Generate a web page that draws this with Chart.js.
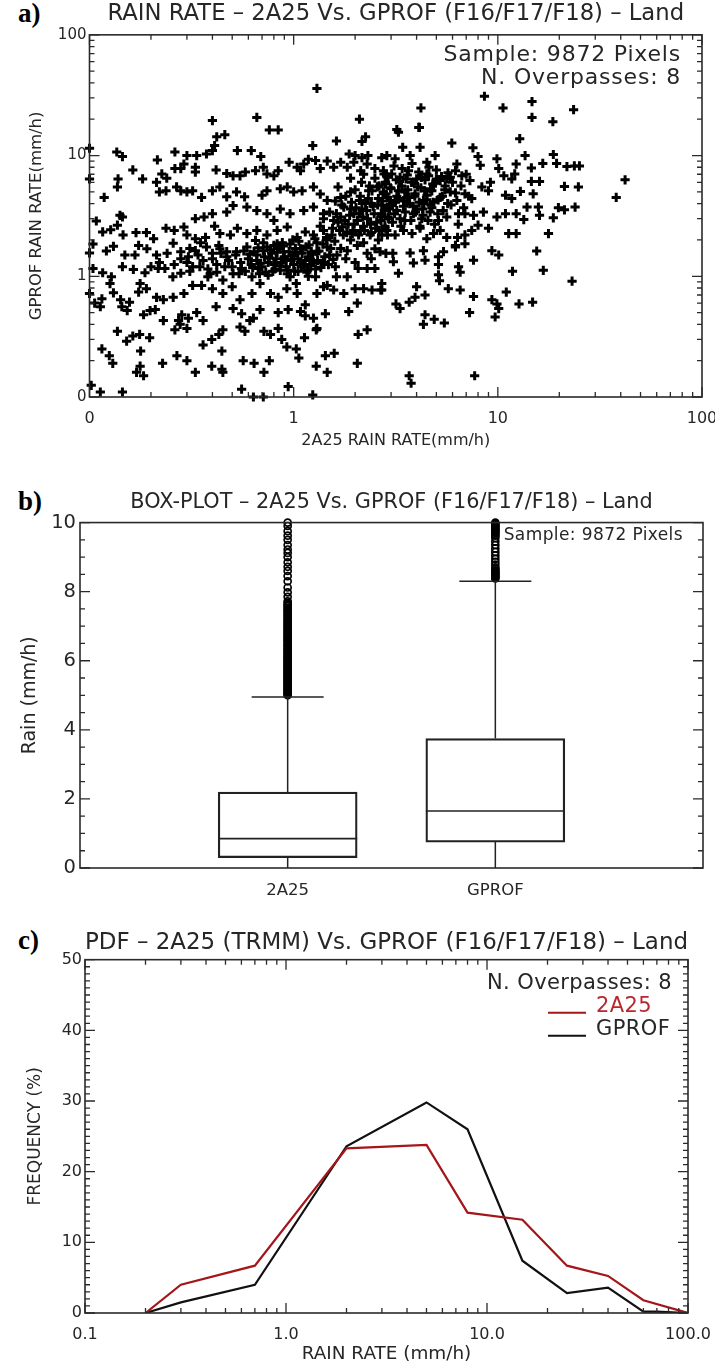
<!DOCTYPE html>
<html>
<head>
<meta charset="utf-8">
<script src="https://cdn.jsdelivr.net/npm/chart.js@4.4.1/dist/chart.umd.min.js"></script>
<style>
  html, body { margin: 0; padding: 0; background: #fff; }
  body { width: 715px; height: 1369px; position: relative; overflow: hidden; }
  canvas { position: absolute; left: 0; }
  .tag { position: absolute; left: 18px; font-family: 'Liberation Serif', 'DejaVu Serif', serif; font-weight: bold; font-size: 27px; line-height: 1; color: #000; }
</style>
</head>
<body>
<div class="tag" style="top:0px">a)</div>
<div class="tag" style="top:488px">b)</div>
<div class="tag" style="top:927px">c)</div>
<canvas id="chartA" style="top:0px" width="715" height="460"></canvas>
<canvas id="chartB" style="top:470px" width="715" height="440"></canvas>
<canvas id="chartC" style="top:915px" width="715" height="454"></canvas>
<script>
// ---- datos ----
const sampleSize = 9872;
const overpasses = 8;

// a) dispersion: [2A25, GPROF] en mm/h
const scatterPoints = [
  // parte alta, puntos sueltos
  [0.40,19.5],[0.66,20.7],[0.76,16.3],[0.84,16.3],[1.30,36],[2.1,20],[8.6,31],[4.2,24.8],[10.6,24.8],[14.7,28],
  [14.7,20.7],[18.6,19.1],[23.5,24],[4.1,17.1],[3.2,16.4],[0.46,14.9],[0.42,14.3],[2.25,14.3],[2.16,13.1],
  // ~10 mm/h
  [0.10,11.5],[0.136,10.7],[0.145,9.8],[0.262,10.7],[0.30,10.0],[0.335,10.0],[0.374,10.3],[0.40,11.0],[0.41,12.1],
  [0.53,11.0],[0.62,11.0],[0.69,9.8],[1.24,12.1],[1.62,13.2],[1.87,10.3],[2.16,9.6],[2.31,10.0],[2.0,10.0],[2.7,9.6],
  // 6-9 mm/h
  [0.10,6.4],[0.138,6.4],[0.163,7.6],[0.182,6.4],[0.215,9.2],[0.213,6.0],[0.226,7.05],[0.239,6.5],[0.262,7.8],
  [0.29,8.5],[0.28,7.8],[0.33,8.0],[0.33,7.3],[0.417,7.6],[0.47,7.1],[0.505,6.8],[0.546,6.8],[0.58,7.3],[0.65,7.5],
  [0.71,8.0],[0.74,7.05],[0.80,6.8],[0.84,7.5],[0.95,8.8],[1.04,8.0],[1.08,7.5],[1.12,8.5],[1.18,9.3],[1.28,9.1],
  [1.35,7.8],[1.46,9.0],[1.57,8.0],[1.70,8.8],[1.83,8.0],[1.97,8.8],[2.13,7.5],[2.29,8.5],[2.5,7.8],[2.77,7.05],
  // 4-6 mm/h
  [0.137,5.5],[0.118,4.5],[0.22,5.0],[0.237,5.1],[0.267,5.5],[0.28,5.1],[0.30,5.0],[0.32,5.1],[0.354,4.5],[0.40,5.1],
  [0.435,5.5],[0.47,4.55],[0.525,5.0],[0.575,4.55],[0.70,4.7],[0.74,5.1],[0.86,5.3],[0.93,5.5],[1.0,5.0],[1.10,5.1],
  [1.25,5.5],[1.35,4.8],[1.46,4.25],[1.70,4.5],[1.90,5.0],[2.1,4.25],[2.33,5.1],[2.57,5.5],[2.83,4.8],
  // 3-4 mm/h
  [0.108,2.87],[0.141,3.2],[0.145,3.1],[0.33,3.0],[0.364,3.1],[0.40,3.3],[0.47,3.4],[0.505,3.85],[0.59,3.74],
  [0.66,3.5],[0.74,3.3],[0.80,2.9],[0.86,3.6],[0.96,3.3],[1.12,3.5],[1.25,3.74],[1.40,3.3],[1.57,2.9],[1.76,3.74],
  [1.97,3.3],[2.16,3.6],[2.4,4.0],[2.67,3.1],[2.88,3.74],
  // 2-3 mm/h
  [0.104,1.85],[0.116,2.33],[0.127,2.43],[0.137,2.65],[0.146,2.2],[0.169,2.3],[0.19,2.3],[0.206,2.05],[0.237,2.5],
  [0.26,2.4],[0.29,2.56],[0.30,2.2],[0.33,2.05],[0.37,2.1],[0.41,2.6],[0.435,2.26],[0.49,2.2],[0.53,2.5],[0.59,2.26],
  [0.66,2.4],[0.74,2.2],[0.83,2.4],[0.93,2.56],[1.04,2.1],[1.14,2.33],[1.25,2.2],[1.40,2.4],[1.54,2.2],[1.73,2.56],
  [1.94,2.26],[2.13,2.4],[2.37,2.2],[2.62,2.4],[2.88,2.2],
  // 1.4-2 mm/h
  [0.10,1.56],[0.121,1.62],[0.131,1.77],[0.149,1.5],[0.167,1.5],[0.174,1.8],[0.191,1.69],[0.213,1.5],[0.257,1.88],
  [0.28,1.6],[0.305,1.45],[0.33,1.63],[0.374,1.75],[0.40,1.55],[0.435,1.69],[0.47,1.45],[0.525,1.6],[0.59,1.75],
  [0.66,1.5],[0.71,1.63],[0.80,1.8],[0.83,1.86],[0.89,1.6],[1.0,1.5],[1.08,1.69],[1.18,1.45],[1.30,1.6],[1.46,1.75],
  [1.63,1.5],[1.83,1.63],[2.05,1.8],[2.29,1.55],[2.5,1.69],[2.83,1.55],
  // ~1 mm/h
  [0.104,1.16],[0.116,1.07],[0.128,0.99],[0.145,1.2],[0.164,1.14],[0.177,0.87],[0.187,1.07],[0.217,1.16],[0.234,1.16],
  [0.256,0.99],[0.28,1.06],[0.31,1.1],[0.347,1.2],[0.38,0.99],[0.42,1.08],[0.45,0.93],[0.505,1.05],[0.555,1.16],
  [0.625,0.99],[0.67,1.16],[0.75,1.02],[0.86,1.12],[0.96,0.99],[1.03,0.87],[1.16,1.08],[1.28,0.99],[1.46,0.84],
  [1.62,0.99],[1.83,0.99],[2.07,1.16],[2.29,1.16],[2.5,1.16],
  // 0.6-0.9 mm/h
  [0.10,0.72],[0.106,0.6],[0.115,0.65],[0.126,0.87],[0.131,0.73],[0.142,0.64],[0.157,0.61],[0.174,0.74],[0.19,0.79],
  [0.213,0.67],[0.23,0.64],[0.257,0.67],[0.29,0.72],[0.32,0.84],[0.354,0.84],[0.40,0.79],[0.45,0.72],[0.50,0.82],
  [0.546,0.64],[0.625,0.72],[0.684,0.87],[0.77,0.72],[0.84,0.67],[0.926,0.79],[1.04,0.72],[1.14,0.58],[1.30,0.72],
  [1.40,0.82],[1.57,0.77],[1.76,0.72],[2.0,0.79],[2.2,0.79],[2.42,0.77],[2.67,0.77],
  // 0.4-0.6 mm/h
  [0.113,0.56],[0.144,0.56],[0.153,0.52],[0.184,0.48],[0.198,0.52],[0.21,0.53],[0.23,0.43],[0.273,0.43],[0.283,0.48],
  [0.305,0.45],[0.335,0.5],[0.36,0.43],[0.417,0.56],[0.505,0.54],[0.556,0.49],[0.61,0.43],[0.635,0.45],[0.684,0.53],
  [0.84,0.5],[0.94,0.53],[1.08,0.51],[1.14,0.47],[1.25,0.45],[1.30,0.37],[1.43,0.49],[1.86,0.51],[2.05,0.6],
  // 0.25-0.4 mm/h
  [0.137,0.35],[0.163,0.32],[0.176,0.33],[0.197,0.31],[0.152,0.29],[0.262,0.36],[0.278,0.4],[0.30,0.37],[0.36,0.27],
  [0.397,0.30],[0.43,0.33],[0.45,0.36],[0.546,0.38],[0.577,0.35],[0.715,0.35],[0.77,0.33],[0.84,0.37],[0.874,0.30],
  [0.926,0.26],[1.03,0.25],[1.13,0.31],[1.29,0.36],[2.07,0.33],[2.29,0.36],
  // 0.15-0.25 mm/h
  [0.115,0.25],[0.125,0.22],[0.13,0.19],[0.178,0.24],[0.177,0.18],[0.17,0.16],[0.184,0.15],[0.228,0.19],[0.268,0.22],
  [0.30,0.2],[0.33,0.16],[0.397,0.18],[0.445,0.24],[0.445,0.17],[0.45,0.16],[0.566,0.2],[0.64,0.19],[0.715,0.16],
  [0.76,0.2],[1.06,0.21],[1.29,0.18],[1.43,0.22],[1.46,0.16],[1.58,0.23],[2.05,0.19],
  // fondo
  [0.102,0.125],[0.113,0.11],[0.145,0.11],[0.556,0.116],[0.635,0.1],[0.71,0.1],[0.94,0.122],[1.24,0.104],
  // nucleo denso 0.5-1.6 mm/h
  [0.55,1.3],[0.6,1.4],[0.62,1.25],[0.66,1.35],[0.7,1.2],[0.72,1.45],[0.75,1.3],[0.78,1.55],[0.8,1.25],[0.82,1.4],
  [0.85,1.7],[0.87,1.3],[0.9,1.45],[0.92,1.2],[0.95,1.6],[0.97,1.35],[1.0,1.25],[1.02,1.7],[1.05,1.4],[1.08,1.3],
  [1.1,1.55],[1.12,1.2],[1.15,1.75],[1.2,1.4],[1.22,1.6],[1.25,1.3],[1.3,1.9],[0.5,1.2],[0.52,1.5],[0.58,1.1],
  [0.64,1.6],[0.68,1.05],[0.74,1.75],[0.79,1.1],[0.88,1.9],[0.93,1.05],[0.99,2.0],[1.05,1.1],[1.18,1.0],[1.28,1.15],
  [0.61,1.52],[0.63,1.18],[0.67,1.72],[0.69,1.28],[0.71,1.9],[0.73,1.08],[0.76,1.42],[0.77,1.65],[0.81,1.15],[0.83,1.58],
  [0.86,1.22],[0.89,1.78],[0.91,1.38],[0.94,1.12],[0.96,1.85],[0.98,1.48],[1.01,1.1],[1.03,1.58],[1.06,1.95],[1.09,1.22],
  [1.11,1.68],[1.14,1.35],[1.17,1.12],[1.19,1.82],[1.21,1.25],[1.24,1.52],[1.27,2.05],[1.31,1.35],[1.33,1.62],[1.36,1.18],
  [1.39,1.85],[1.42,1.45],[1.45,2.1],[1.48,1.25],[1.52,1.7],[1.56,1.38],[1.59,1.95],[0.57,1.62],[0.54,1.05],[0.65,1.98],
  [0.3,1.3],[0.32,1.2],[0.34,1.5],[0.36,1.35],[0.38,1.15],[0.4,1.4],[0.42,1.25],[0.44,1.55],[0.46,1.2],[0.48,1.35],
  [0.31,1.7],[0.35,1.9],[0.39,1.05],[0.43,1.8],[0.47,1.6],[0.26,1.25],[0.28,1.4],[0.24,1.55],[0.22,1.3],[0.2,1.2],
  // nucleo denso 1.3-6 mm/h
  [1.35,2.6],[1.4,3.0],[1.45,2.0],[1.5,3.4],[1.55,2.5],[1.6,4.2],[1.65,2.8],[1.7,3.1],[1.75,2.2],[1.8,4.6],
  [1.85,2.7],[1.9,3.6],[1.95,2.4],[2.0,5.2],[2.05,2.9],[2.1,3.3],[2.15,6.0],[2.2,2.6],[2.25,4.0],[2.3,3.0],
  [2.35,5.6],[2.4,2.3],[2.45,3.8],[2.5,6.5],[2.55,2.8],[2.6,4.4],[2.7,3.2],[2.75,5.0],[2.8,2.5],[2.85,6.8],
  [1.4,1.3],[1.5,1.5],[1.6,1.2],[1.7,1.7],[1.8,1.4],[1.9,2.0],[2.0,1.3],[2.2,1.9],[2.4,1.4],[2.6,2.0],
  [1.62,3.3],[1.68,2.4],[1.72,3.9],[1.78,2.9],[1.82,2.3],[1.88,3.2],[1.92,4.1],[1.98,2.7],[2.02,3.7],[2.08,2.2],
  [2.12,4.6],[2.18,3.1],[2.22,2.4],[2.28,3.5],[2.32,4.4],[2.38,2.7],[2.42,5.1],[2.48,3.3],[2.52,2.5],[2.58,3.9],
  [2.62,5.6],[2.68,2.9],[2.72,4.2],[2.78,3.5],[2.82,6.0],[2.88,4.5],[2.92,3.0],[2.98,5.4],[3.05,4.0],[3.12,3.3],
  [3.18,6.3],[3.25,4.4],[3.32,3.0],[3.38,5.6],[3.46,4.2],[3.52,3.4],[3.62,5.2],[3.68,4.5],[3.78,6.0],[3.85,3.8],
  [3.92,4.6],[4.05,5.5],[4.12,4.1],[4.22,6.6],[4.28,3.6],[4.38,5.1],[4.48,4.3],[4.58,6.8],[4.68,5.3],[4.82,4.1],
  [4.95,5.9],[5.08,3.3],[5.22,6.2],[5.35,4.6],[5.52,5.6],[5.68,4.0],[5.85,6.6],[1.65,5.5],[1.9,6.5],[2.2,7.0],
  // lado derecho, parte alta
  [3.26,15.6],[4.13,17.1],[5.95,12.7],[7.55,11.6],[12.8,13.8],
  [2.86,10.0],[3.14,9.4],[3.42,11.7],[3.72,10.0],[4.16,11.7],[4.49,8.8],[4.93,10.0],[6.3,8.5],[8.0,9.8],[8.2,8.3],
  [9.9,9.4],[10.1,7.8],[12.3,8.5],[13.6,10.0],[14.6,7.9],[16.6,8.6],[18.7,10.2],[19.4,8.6],[21.8,8.1],[23.7,8.2],[25.1,8.2],
  [2.75,7.5],[3.02,7.05],[3.32,6.6],[3.65,7.5],[4.0,6.4],[4.49,7.05],[5.0,6.4],[5.62,6.4],[6.2,7.5],[6.66,6.8],
  [7.3,6.2],[8.35,5.5],[9.2,6.0],[10.7,6.8],[11.7,6.4],[12.1,7.05],[14.6,6.1],[16.0,6.1],[21.2,5.55],[24.8,5.5],[42,6.3],[38,4.5],
  [2.75,4.82],[2.97,4.25],[3.26,5.1],[3.58,4.5],[3.93,4.82],[4.32,4.25],[4.75,5.1],[5.22,4.5],[5.85,5.0],[6.3,4.25],
  [6.9,4.82],[7.45,4.4],[9.0,5.1],[10.9,4.7],[11.7,4.4],[12.9,5.05],[14.9,4.82],[13.9,3.74],[15.8,3.74],[19.8,3.7],[21.2,3.55],[23.9,3.74],
  [2.7,3.3],[2.9,3.1],[3.2,3.5],[3.5,2.9],[3.86,3.3],[4.24,3.0],[4.66,3.4],[5.12,2.9],[5.62,3.1],[6.42,3.3],
  [6.9,3.3],[7.6,3.2],[8.5,3.4],[9.9,3.1],[10.9,3.3],[12.3,3.3],[13.4,2.95],[16.0,3.2],[18.7,3.05],
  [2.7,2.2],[2.86,2.4],[3.14,2.2],[3.45,2.4],[3.8,2.26],[4.16,2.5],[4.49,2.05],[4.84,2.26],[5.22,2.4],[5.62,2.1],
  [6.2,1.8],[6.9,2.2],[7.45,2.4],[8.0,2.65],[9.0,2.5],[11.3,2.26],[12.3,2.26],[17.7,2.26],
  // lado derecho, parte baja
  [2.65,1.6],[3.06,1.55],[3.72,1.56],[4.32,1.63],[5.12,1.45],[5.42,1.6],[6.2,1.75],[6.9,1.86],[6.35,2.1],[7.6,1.36],
  [9.35,1.63],[10.1,1.5],[11.8,1.1],[15.5,1.62],[16.7,1.12],[3.08,1.32],[3.86,1.29],[4.4,1.36],[5.12,1.25],[6.54,1.08],[6.42,1.2],
  [3.26,1.06],[2.7,0.87],[2.7,0.77],[4.0,0.82],[3.93,0.67],[4.4,0.7],[5.12,1.03],[5.18,0.92],[5.72,0.79],[6.54,0.77],
  [7.6,0.68],[11.0,0.74],[9.35,0.64],[9.9,0.59],[10.1,0.54],[12.7,0.59],[14.8,0.61],[23.1,0.91],
  [3.17,0.59],[3.32,0.54],[3.68,0.61],[4.4,0.48],[4.32,0.4],[4.88,0.44],[5.47,0.41],[7.27,0.5],[9.7,0.46],
  [3.68,0.15],[3.76,0.13],[7.7,0.15],
  // nucleo denso 2.7-7 mm/h
  [2.8,5.8],[2.9,6.6],[3.0,5.3],[3.1,8.2],[3.2,4.6],[3.3,6.1],[3.4,7.8],[3.5,5.0],[3.6,6.9],[3.7,4.0],
  [3.8,8.6],[3.9,5.9],[4.0,3.6],[4.1,7.3],[4.2,5.4],[4.3,3.2],[4.4,6.3],[4.5,4.7],[4.6,8.0],[4.7,3.9],
  [4.8,5.8],[4.9,2.7],[5.0,7.6],[5.1,4.3],[5.3,6.7],[5.4,3.5],[5.5,5.2],[5.7,7.2],[5.9,3.9],[6.0,6.0],
  [6.2,4.9],[6.4,2.7],[6.6,5.6],[6.8,3.7],[7.0,7.0],[7.2,4.6],[2.7,3.9],[2.8,2.6],[2.95,3.6],[3.05,2.8],
  [3.15,4.1],[3.35,2.6],[3.45,3.8],[3.55,6.4],[3.75,2.9],[3.95,3.4],[4.15,2.6],[4.35,4.0],[4.55,2.9],[4.75,3.7]
];
const decadeTicks = [0.1, 1, 10, 100];
const scatterTickLabels = ['0', '1', '10', '100'];

// b) diagrama de caja (mm/h)
const boxNames = ['2A25', 'GPROF'];
const boxQ1 = [0.3, 0.75];
const boxMedian = [0.85, 1.65];
const boxQ3 = [2.2, 3.75];
const whiskerLow = [0, 0];
const whiskerHigh = [4.95, 8.3];
const outliers2A25 = [5.0, 5.03, 5.06, 5.09, 5.12, 5.15, 5.18, 5.21, 5.25, 5.28, 5.31, 5.34, 5.37, 5.41, 5.44, 5.47,
  5.5, 5.53, 5.57, 5.6, 5.63, 5.66, 5.7, 5.73, 5.76, 5.8, 5.83, 5.86, 5.9, 5.93, 5.97, 6.0, 6.04, 6.07, 6.1, 6.14,
  6.17, 6.21, 6.25, 6.28, 6.32, 6.36, 6.4, 6.44, 6.47, 6.51, 6.55, 6.59, 6.63, 6.66, 6.7, 6.74, 6.78, 6.82, 6.86,
  6.9, 6.94, 6.98, 7.02, 7.06, 7.1, 7.14, 7.18, 7.22, 7.27, 7.31, 7.35, 7.4, 7.44, 7.49, 7.53, 7.58, 7.62, 7.67,
  7.72, 7.85, 7.98, 8.12, 8.3, 8.45, 8.6, 8.72, 8.85, 9.0, 9.12, 9.22, 9.35, 9.5, 9.62, 9.75, 9.9, 10.0];
const outliersGPROF = [8.38, 8.41, 8.44, 8.47, 8.5, 8.53, 8.56, 8.59, 8.62, 8.66, 8.7, 8.78, 8.86, 8.95, 9.05,
  9.15, 9.25, 9.35, 9.45, 9.55, 9.62, 9.65, 9.7, 9.73, 9.76, 9.79, 9.82, 9.85, 9.88, 9.91, 9.94, 9.97, 10.0];

// c) PDF (%)
const pdfNames = ['2A25', 'GPROF'];
const pdfColors = ['#a3161a', '#111111'];
const pdfRate2A25 = [0.2, 0.3, 0.7, 2, 5, 8, 15, 25, 40, 60, 100];
const pdf2A25 = [0, 4.0, 6.7, 23.3, 23.8, 14.2, 13.2, 6.7, 5.25, 1.8, 0];
const pdfRateGPROF = [0.2, 0.3, 0.7, 2, 5, 8, 15, 25, 40, 60, 70, 100];
const pdfGPROF = [0, 1.5, 4.0, 23.6, 29.8, 26, 7.4, 2.8, 3.6, 0.2, 0.2, 0];
const pdfTickLabels = ['0.1', '1.0', '10.0', '100.0'];

// ---- estilo general ----
const FONT = "'DejaVu Sans', sans-serif";
const INK = '#262626';
Chart.defaults.font.family = FONT;
Chart.defaults.color = INK;
Chart.defaults.animation = false;

// marcas de eje hacia adentro en los cuatro lados, como IDL
function logMarks(scale) {
  const major = [], minor = [];
  const lo = Math.floor(Math.log10(scale.min) + 1e-9);
  const hi = Math.ceil(Math.log10(scale.max) - 1e-9);
  for (let e = lo; e <= hi; e++) {
    const d = Math.pow(10, e);
    if (d >= scale.min * 0.999 && d <= scale.max * 1.001) major.push(d);
    for (let k = 2; k < 10; k++) {
      const v = k * d;
      if (v > scale.min && v < scale.max) minor.push(v);
    }
  }
  return {major, minor};
}
function linearMarks(scale, step) {
  const major = scale.ticks.map(t => t.value);
  const minor = [];
  for (let v = scale.min; v <= scale.max + 1e-9; v += step) {
    const r = Math.round(v * 1000) / 1000;
    if (!major.some(m => Math.abs(m - r) < 1e-6)) minor.push(r);
  }
  return {major, minor};
}
const idlFrame = {
  id: 'idlFrame',
  afterDatasetsDraw(chart, args, opts) {
    const {ctx, chartArea: a, scales} = chart;
    ctx.save();
    ctx.strokeStyle = '#2a2a2a';
    ctx.lineWidth = 1.6;
    ctx.strokeRect(a.left, a.top, a.right - a.left, a.bottom - a.top);
    ctx.lineWidth = 1.3;
    ctx.beginPath();
    ['x', 'y'].forEach(id => {
      const kind = opts[id];
      if (!kind) return;
      const scale = scales[id];
      const marks = kind === 'log' ? logMarks(scale) : linearMarks(scale, kind);
      const put = (v, len) => {
        const p = scale.getPixelForValue(v);
        if (id === 'x') {
          ctx.moveTo(p, a.bottom); ctx.lineTo(p, a.bottom - len);
          ctx.moveTo(p, a.top); ctx.lineTo(p, a.top + len);
        } else {
          ctx.moveTo(a.left, p); ctx.lineTo(a.left + len, p);
          ctx.moveTo(a.right, p); ctx.lineTo(a.right - len, p);
        }
      };
      marks.major.forEach(v => put(v, 10));
      marks.minor.forEach(v => put(v, 5));
    });
    ctx.stroke();
    ctx.restore();
  }
};

// textos dentro del grafico (muestra, pasadas y leyenda de c)
const notes = {
  id: 'notes',
  afterDraw(chart, args, opts) {
    if (!opts.lines) return;
    const {ctx, chartArea: a} = chart;
    ctx.save();
    ctx.font = opts.font;
    ctx.letterSpacing = opts.spacing || '0px';
    ctx.textBaseline = 'middle';
    opts.lines.forEach(l => {
      ctx.fillStyle = l.color || INK;
      if (l.swatch) {
        ctx.textAlign = 'left';
        ctx.fillText(l.text, a.right - 92, a.top + l.y);
        ctx.strokeStyle = l.swatch;
        ctx.lineWidth = 2;
        ctx.beginPath();
        ctx.moveTo(a.right - 140, a.top + l.y + 6);
        ctx.lineTo(a.right - 102, a.top + l.y + 6);
        ctx.stroke();
      } else {
        ctx.textAlign = 'right';
        ctx.fillText(l.text, a.right - opts.right, a.top + l.y);
      }
    });
    ctx.restore();
  }
};

function fixTicks(values) {
  return scale => { scale.ticks = values.map(v => ({value: v})); };
}
// tamano fijo de los ejes, sin el margen extra que Chart.js reserva para las etiquetas
function fixHeight(h) {
  return s => { s.height = h; s.paddingLeft = 0; s.paddingRight = 0; };
}
function fixWidth(w) {
  return s => { s.width = w; s.paddingTop = 0; s.paddingBottom = 0; };
}
const titleFont = size => ({family: FONT, size: size, weight: 'normal'});

// ---- a) dispersion ----
new Chart(document.getElementById('chartA'), {
  type: 'scatter',
  data: {
    datasets: [{
      data: scatterPoints.map(p => ({x: p[0], y: p[1]})),
      pointStyle: 'cross',
      radius: 4.6,
      borderWidth: 3,
      borderColor: '#000',
      clip: false
    }]
  },
  options: {
    responsive: false,
    devicePixelRatio: 1,
    layout: {autoPadding: false, padding: {top: 0, right: 13, bottom: 0, left: 0}},
    plugins: {
      legend: {display: false},
      tooltip: {enabled: false},
      title: {display: true, fullSize: false, text: 'RAIN RATE – 2A25 Vs. GPROF (F16/F17/F18) – Land',
        font: titleFont(22.7), padding: {top: 0, bottom: 7.6}},
      idlFrame: {x: 'log', y: 'log'},
      notes: {font: '22px ' + FONT, spacing: '0.8px', right: 21, lines: [
        {text: 'Sample: ' + sampleSize + ' Pixels', y: 20},
        {text: 'N. Overpasses: ' + overpasses, y: 43}
      ]}
    },
    scales: {
      x: {
        type: 'logarithmic', min: 0.1, max: 100,
        afterBuildTicks: fixTicks(decadeTicks),
        afterFit: fixHeight(63),
        grid: {display: false, drawTicks: false}, border: {display: false},
        ticks: {autoSkip: false, maxRotation: 0, padding: 12, font: {size: 16},
          callback: (v, i) => scatterTickLabels[i]},
        title: {display: true, text: '2A25 RAIN RATE(mm/h)', font: {size: 16}, padding: {top: 0, bottom: 10}}
      },
      y: {
        type: 'logarithmic', min: 0.1, max: 100,
        afterBuildTicks: fixTicks(decadeTicks),
        afterFit: fixWidth(89.5),
        grid: {display: false, drawTicks: false}, border: {display: false},
        ticks: {autoSkip: false, padding: 3, font: {size: 15},
          callback: (v, i) => scatterTickLabels[i]},
        title: {display: true, text: 'GPROF RAIN RATE(mm/h)', font: {size: 16.5}, padding: {top: 27, bottom: 0}}
      }
    }
  },
  plugins: [idlFrame, notes]
});

// ---- b) box-plot ----
const ink = '#222';
const boxDatasets = [
  {type: 'bar', data: boxNames.map((n, i) => ({x: i + 1, y: [boxQ1[i], boxQ3[i]]})),
    backgroundColor: 'rgba(0,0,0,0)', borderColor: ink, borderWidth: 1.6, borderSkipped: false, barThickness: 139},
  {type: 'scatter', data: boxMedian.map((v, i) => ({x: i + 1, y: v})), pointStyle: 'line',
    radius: 69.5, borderWidth: 1.6, borderColor: ink}
];
boxNames.forEach((n, i) => {
  [[whiskerLow[i], boxQ1[i]], [boxQ3[i], whiskerHigh[i]]].forEach(seg => {
    boxDatasets.push({type: 'line', data: seg.map(v => ({x: i + 1, y: v})), borderColor: ink,
      borderWidth: 1.5, pointRadius: 0});
  });
});
boxDatasets.push({type: 'scatter', data: whiskerHigh.map((v, i) => ({x: i + 1, y: v})), pointStyle: 'line',
  radius: 36, borderWidth: 1.5, borderColor: ink});
boxDatasets.push({type: 'scatter', data: outliers2A25.map(v => ({x: 1, y: v}))
  .concat(outliersGPROF.map(v => ({x: 2, y: v}))),
  pointStyle: 'circle', radius: 3.5, borderWidth: 1.7, borderColor: '#000', backgroundColor: 'rgba(255,255,255,0)', clip: false});

new Chart(document.getElementById('chartB'), {
  type: 'bar',
  data: {datasets: boxDatasets},
  options: {
    responsive: false,
    devicePixelRatio: 1,
    layout: {autoPadding: false, padding: {top: 19.8, right: 12, bottom: 0, left: 0}},
    plugins: {
      legend: {display: false},
      tooltip: {enabled: false},
      title: {display: true, fullSize: false, text: 'BOX-PLOT – 2A25 Vs. GPROF (F16/F17/F18) – Land',
        font: titleFont(20.8), padding: {top: 0, bottom: 7.8}},
      idlFrame: {x: null, y: 0.5},
      notes: {font: '17px ' + FONT, spacing: '0.4px', right: 20, lines: [
        {text: 'Sample: ' + sampleSize + ' Pixels', y: 13}
      ]}
    },
    scales: {
      x: {
        type: 'linear', min: 0, max: 3, offset: false,
        afterBuildTicks: fixTicks([1, 2]),
        afterFit: fixHeight(42),
        grid: {display: false, drawTicks: false}, border: {display: false},
        ticks: {autoSkip: false, maxRotation: 0, padding: 13, font: {size: 16.5},
          callback: (v, i) => boxNames[i]}
      },
      y: {
        type: 'linear', min: 0, max: 10,
        afterFit: fixWidth(80),
        grid: {display: false, drawTicks: false}, border: {display: false},
        ticks: {stepSize: 2, padding: 4, font: {size: 19.5}},
        title: {display: true, text: 'Rain (mm/h)', font: {size: 19}, padding: {top: 19, bottom: 0}}
      }
    }
  },
  plugins: [idlFrame, notes]
});

// ---- c) PDF ----
new Chart(document.getElementById('chartC'), {
  type: 'line',
  data: {
    datasets: [
      {label: pdfNames[0], data: pdfRate2A25.map((r, i) => ({x: r, y: pdf2A25[i]})),
        borderColor: pdfColors[0], borderWidth: 2.2, pointRadius: 0, tension: 0},
      {label: pdfNames[1], data: pdfRateGPROF.map((r, i) => ({x: r, y: pdfGPROF[i]})),
        borderColor: pdfColors[1], borderWidth: 2.2, pointRadius: 0, tension: 0}
    ]
  },
  options: {
    responsive: false,
    devicePixelRatio: 1,
    layout: {autoPadding: false, padding: {top: 13.8, right: 27, bottom: 0, left: 0}},
    plugins: {
      legend: {display: false},
      tooltip: {enabled: false},
      title: {display: true, fullSize: false, text: 'PDF – 2A25 (TRMM) Vs. GPROF (F16/F17/F18) – Land',
        font: titleFont(23.4), padding: {top: 0, bottom: 2.8}},
      idlFrame: {x: 'log', y: 1},
      notes: {font: '21px ' + FONT, spacing: '0.4px', right: 16, lines: [
        {text: 'N. Overpasses: ' + overpasses, y: 24},
        {text: pdfNames[0], y: 47, color: '#b8282c', swatch: pdfColors[0]},
        {text: pdfNames[1], y: 70, color: INK, swatch: pdfColors[1]}
      ]}
    },
    scales: {
      x: {
        type: 'logarithmic', min: 0.1, max: 100,
        afterBuildTicks: fixTicks(decadeTicks),
        afterFit: fixHeight(56),
        grid: {display: false, drawTicks: false}, border: {display: false},
        ticks: {autoSkip: false, maxRotation: 0, padding: 12, font: {size: 16},
          callback: (v, i) => pdfTickLabels[i]},
        title: {display: true, text: 'RAIN RATE (mm/h)', font: {size: 18.4}, padding: {top: 0, bottom: 3.5}}
      },
      y: {
        type: 'linear', min: 0, max: 50,
        afterFit: fixWidth(85),
        grid: {display: false, drawTicks: false}, border: {display: false},
        ticks: {stepSize: 10, padding: 3, font: {size: 16}},
        title: {display: true, text: 'FREQUENCY (%)', font: {size: 17}, padding: {top: 25, bottom: 0}}
      }
    }
  },
  plugins: [idlFrame, notes]
});
</script>
</body>
</html>
